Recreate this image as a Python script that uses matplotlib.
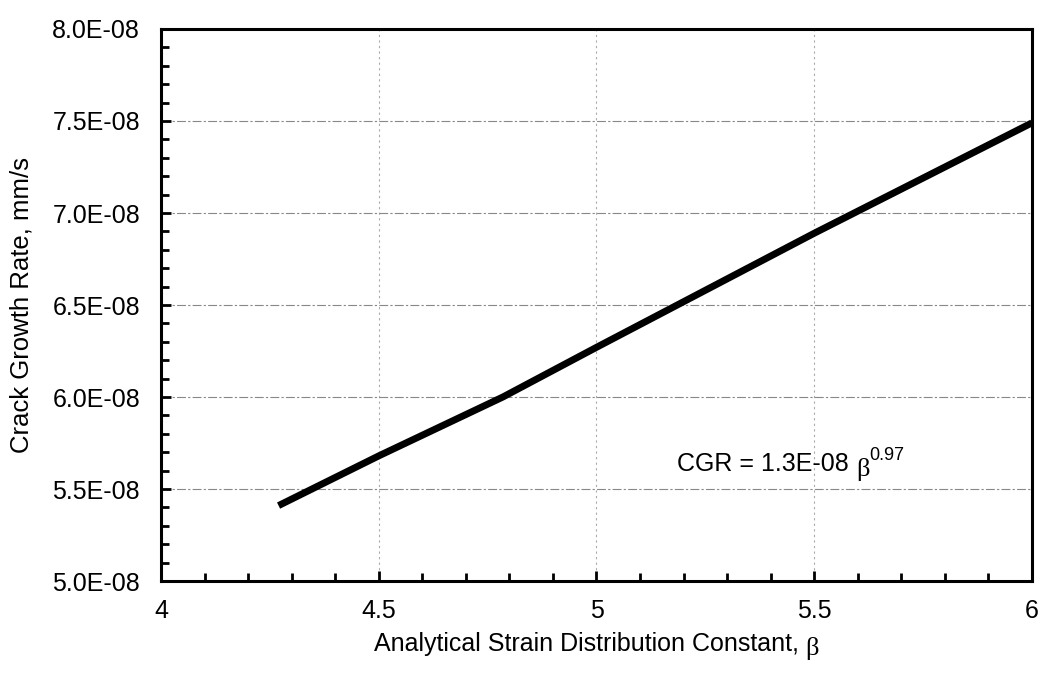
import matplotlib
matplotlib.use("Agg")
import matplotlib.pyplot as plt
from matplotlib.ticker import MultipleLocator, FuncFormatter

# Data
beta = [4.27, 4.5, 4.785, 5.0, 5.25, 5.5, 5.75, 6.0]
cgr = [5.41e-08, 5.68e-08, 6.00e-08, 6.27e-08, 6.58e-08, 6.89e-08, 7.19e-08, 7.49e-08]

x_label = "Analytical Strain Distribution Constant, "
x_sym = "β"
y_label = "Crack Growth Rate, mm/s"
eq_main = "CGR = 1.3E-08 "
eq_sym = "β"
eq_exp = "0.97"

plt.rcParams['font.family'] = ['Liberation Sans', 'DejaVu Sans']

fig = plt.figure(figsize=(10.44, 6.79), dpi=100)
ax = fig.add_axes([0.1542, 0.1443, 0.8343, 0.813])

ax.plot(beta, cgr, color='black', linewidth=5, solid_capstyle='butt', zorder=3)

ax.set_xlim(4, 6)
ax.set_ylim(5.0e-08, 8.0e-08)
ax.xaxis.set_major_locator(MultipleLocator(0.5))
ax.xaxis.set_minor_locator(MultipleLocator(0.1))
ax.yaxis.set_major_locator(MultipleLocator(0.5e-08))
ax.yaxis.set_minor_locator(MultipleLocator(0.1e-08))
ax.xaxis.set_major_formatter(FuncFormatter(lambda v, p: f"{v:g}"))
ax.yaxis.set_major_formatter(FuncFormatter(lambda v, p: f"{v:.1E}"))

ax.tick_params(which='both', direction='in', width=2, top=False, right=False, labelsize=18)
ax.tick_params(which='major', length=7)
ax.tick_params(which='minor', length=6)
ax.tick_params(axis='x', which='major', pad=13)
ax.tick_params(axis='y', which='major', pad=15)

for s in ax.spines.values():
    s.set_linewidth(2.2)
    s.set_color('black')

ax.grid(axis='y', which='major', color='#888888', linewidth=0.8, linestyle=(0, (8, 2, 2, 2)), zorder=1)
ax.grid(axis='x', which='major', color='#aaaaaa', linewidth=0.8, linestyle=(0, (2, 3)), zorder=1)

# x label: text plus a serif beta, centred as a whole under the axes
xl = fig.text(0.0, 0.0, x_label, fontsize=18, ha='left', va='baseline')
fig.canvas.draw()
r = fig.canvas.get_renderer()
w1 = xl.get_window_extent(r).width
xs = fig.text(0, 0, x_sym, fontsize=19, family='Liberation Serif', ha='left', va='baseline')
w2 = xs.get_window_extent(r).width
cx = (ax.get_position().x0 + ax.get_position().x1) / 2 * fig.bbox.width
x0 = cx - (w1 + w2) / 2
y_base = 679 - 651
xl.set_position((x0 / fig.bbox.width, y_base / fig.bbox.height))
xs.set_position(((x0 + w1) / fig.bbox.width, (y_base - 4) / fig.bbox.height))

fig.text(22 / 1044, 0.5 * (ax.get_position().y0 + ax.get_position().y1), y_label,
         fontsize=18.5, rotation=90, ha='center', va='center')

t1 = ax.text(5.185, 5.60e-08, eq_main, fontsize=18, ha='left', va='baseline')
t2 = ax.annotate(eq_sym, xy=(1, 0), xycoords=t1, xytext=(0, -4), textcoords='offset points',
                 fontsize=19, family='Liberation Serif', ha='left', va='bottom')
ax.annotate(eq_exp, xy=(1, 0.75), xycoords=t2, fontsize=13, ha='left', va='bottom')

fig.savefig("out.png", dpi=100)
